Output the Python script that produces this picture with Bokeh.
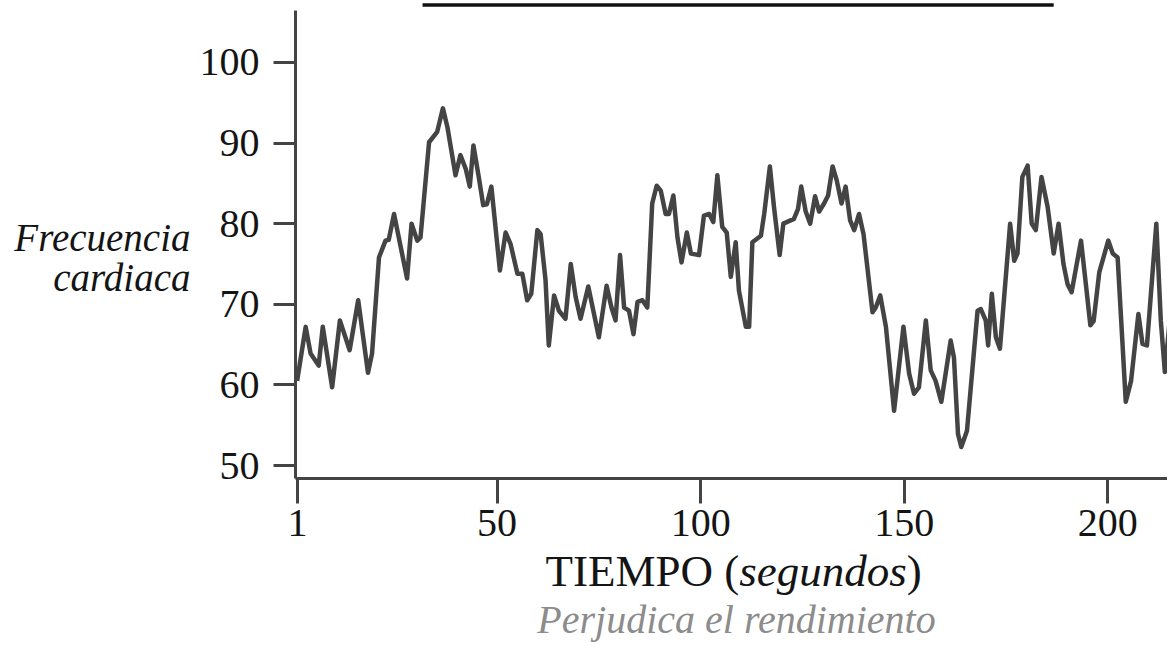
from bokeh.plotting import figure
from bokeh.models import Range1d, FixedTicker, Label
from bokeh.embed import file_html
from bokeh.resources import INLINE

# ---- data ----
seconds = [0.9, 3.0, 4.2, 6.2, 7.2, 9.5, 11.4, 13.8, 15.9, 18.3, 19.3, 21.0, 22.6, 23.4, 24.7,
           27.9, 29.0, 30.4, 31.2, 33.3, 35.3, 36.7, 37.8, 39.8, 41.0, 42.3, 43.3, 44.2, 45.5,
           46.6, 47.5, 48.6, 50.7, 52.1, 53.3, 55.0, 56.2, 57.4, 58.4, 59.9, 60.7, 61.9, 62.7,
           64.0, 65.2, 66.8, 68.1, 69.3, 70.5, 72.4, 75.0, 76.9, 78.1, 79.1, 80.2, 81.2, 82.4,
           83.5, 84.5, 85.7, 86.9, 88.1, 89.2, 90.2, 91.4, 92.2, 93.3, 94.3, 95.3, 96.6, 97.6,
           99.6, 100.8, 102.1, 103.1, 104.1, 105.3, 106.4, 107.4, 108.6, 109.4, 111.1, 111.9,
           112.7, 114.8, 115.6, 117.0, 118.0, 119.4, 120.3, 122.9, 123.9, 124.7, 125.8, 126.9,
           128.1, 129.1, 130.3, 131.3, 132.4, 133.4, 134.6, 135.6, 136.7, 137.7, 138.9, 140.0,
           142.2, 143.0, 144.1, 145.5, 147.5, 149.8, 151.2, 152.4, 153.6, 155.3, 156.5, 157.7,
           159.1, 161.4, 162.2, 163.2, 164.0, 165.4, 168.0, 168.8, 170.0, 170.6, 171.5, 172.5,
           173.5, 176.0, 177.0, 177.8, 179.0, 180.3, 181.3, 182.3, 183.7, 185.2, 186.7, 187.9,
           189.1, 190.1, 191.1, 193.4, 194.6, 195.7, 196.5, 197.9, 200.1, 201.2, 202.4, 204.4,
           205.7, 207.5, 208.5, 209.6, 211.9, 213.0, 214.0, 216.3, 216.8]
heart_rate = [60.5, 67.2, 63.9, 62.4, 67.2, 59.7, 68.0, 64.3, 70.5, 61.5, 63.9, 75.8, 77.9, 78.0, 81.2,
              73.2, 80.0, 77.9, 78.3, 90.1, 91.4, 94.3, 92.0, 86.0, 88.5, 86.8, 84.6, 89.7, 85.8,
              82.3, 82.4, 84.6, 74.2, 78.9, 77.5, 73.8, 73.8, 70.5, 71.3, 79.2, 78.7, 73.0, 64.9,
              71.1, 69.2, 68.2, 75.0, 70.9, 68.2, 72.2, 65.9, 72.3, 69.6, 68.0, 76.1, 69.6, 69.2,
              66.3, 70.3, 70.5, 69.6, 82.5, 84.7, 84.1, 81.2, 81.2, 83.5, 78.3, 75.2, 78.9, 76.3,
              76.1, 81.0, 81.2, 80.2, 86.0, 79.6, 78.9, 73.4, 77.7, 71.7, 67.2, 67.2,
              77.7, 78.5, 81.2, 87.1, 82.1, 76.1, 80.0, 80.6, 81.8, 84.6, 81.5, 80.0,
              83.4, 81.5, 82.5, 83.5, 87.1, 85.4, 82.5, 84.6, 80.4, 79.2, 81.2, 78.7,
              69.0, 69.6, 71.1, 67.2, 56.8, 67.2, 61.4, 58.9, 59.7, 68.0, 61.8, 60.5,
              57.9, 65.5, 63.4, 53.9, 52.3, 54.3, 69.2, 69.4, 68.0, 64.9, 71.3, 65.9,
              64.5, 80.0, 75.4, 76.3, 85.8, 87.2, 80.0, 79.2, 85.8, 82.1, 76.3, 80.0,
              75.0, 72.5, 71.5, 77.9, 72.5, 67.4, 67.9, 74.0, 77.9, 76.3, 75.8, 57.9,
              60.5, 68.8, 65.1, 64.9, 80.0, 68.0, 61.6, 74.0, 73.0]
period_x = [31.7, 186.7]
period_y = [107.13, 107.13]
y_ticks = [50, 60, 70, 80, 90, 100]
x_ticks = [1, 50, 100, 150, 200]
x_tick_labels = ["1", "50", "100", "150", "200"]

SERIF = "Liberation Serif"
INK = "#141414"
LINE = "#444444"
W, H = 1167, 645

# pixel -> data mapping (the frame fills the whole canvas; axes sit at fixed locations)
def dx(px):
    return 0.5 + (px - 295) / 4.072

def dy(py):
    return 50 + (465 - py) / 8.061

X0, Y0 = dx(295), dy(478)          # where the two axes cross

p = figure(width=W, height=H, output_backend="svg", toolbar_location=None,
           x_range=Range1d(dx(0), dx(W)), y_range=Range1d(dy(H), dy(0)),
           min_border=0, background_fill_color="white", border_fill_color="white")
p.outline_line_color = None
p.grid.visible = False

# axes
yax = p.yaxis[0]
yax.fixed_location = X0
yax.ticker = FixedTicker(ticks=y_ticks)
yax.bounds = (Y0, dy(10))
yax.axis_line_color = LINE
yax.axis_line_width = 3
yax.major_tick_line_color = LINE
yax.major_tick_line_width = 3
yax.major_tick_out = 22
yax.major_tick_in = 0
yax.minor_tick_line_color = None
yax.major_label_standoff = 14
yax.major_label_text_font = SERIF
yax.major_label_text_font_size = "40px"
yax.major_label_text_color = INK

xax = p.xaxis[0]
xax.fixed_location = Y0
xax.ticker = FixedTicker(ticks=x_ticks)
xax.bounds = (X0, dx(W))
xax.major_label_overrides = {k: v for k, v in zip(x_ticks, x_tick_labels)}
xax.axis_line_color = LINE
xax.axis_line_width = 3
xax.major_tick_line_color = LINE
xax.major_tick_line_width = 3
xax.major_tick_out = 25
xax.major_tick_in = 0
xax.minor_tick_line_color = None
xax.major_label_standoff = 6
xax.major_label_text_font = SERIF
xax.major_label_text_font_size = "40px"
xax.major_label_text_color = INK

# data
p.line(seconds, heart_rate, line_color=LINE, line_width=4.5, line_join="round")
p.line(period_x, period_y, line_color="#111111", line_width=3.5)

def lab(x, baseline, text, size, style="normal", color=INK, align="left"):
    # the rendered baseline sits about 0.395 em below the anchor; compensate
    y = baseline - 0.395 * size
    p.add_layout(Label(x=dx(x), y=dy(y), text=text, text_font=SERIF,
                       text_font_size=f"{size}px", text_font_style=style, text_color=color,
                       text_align=align, text_baseline="alphabetic"))

lab(190, 252, "Frecuencia", 39, "italic", align="right")
lab(190, 292, "cardiaca", 39, "italic", align="right")

lab(545, 588, "TIEMPO (", 45)
lab(738.7, 588, "segundos", 45, "italic")
lab(906.2, 588, ")", 45)

lab(736, 635, "Perjudica el rendimiento", 40, "italic", color="#8c8c8c", align="center")

open("out.html", "w").write(file_html(p, INLINE))
